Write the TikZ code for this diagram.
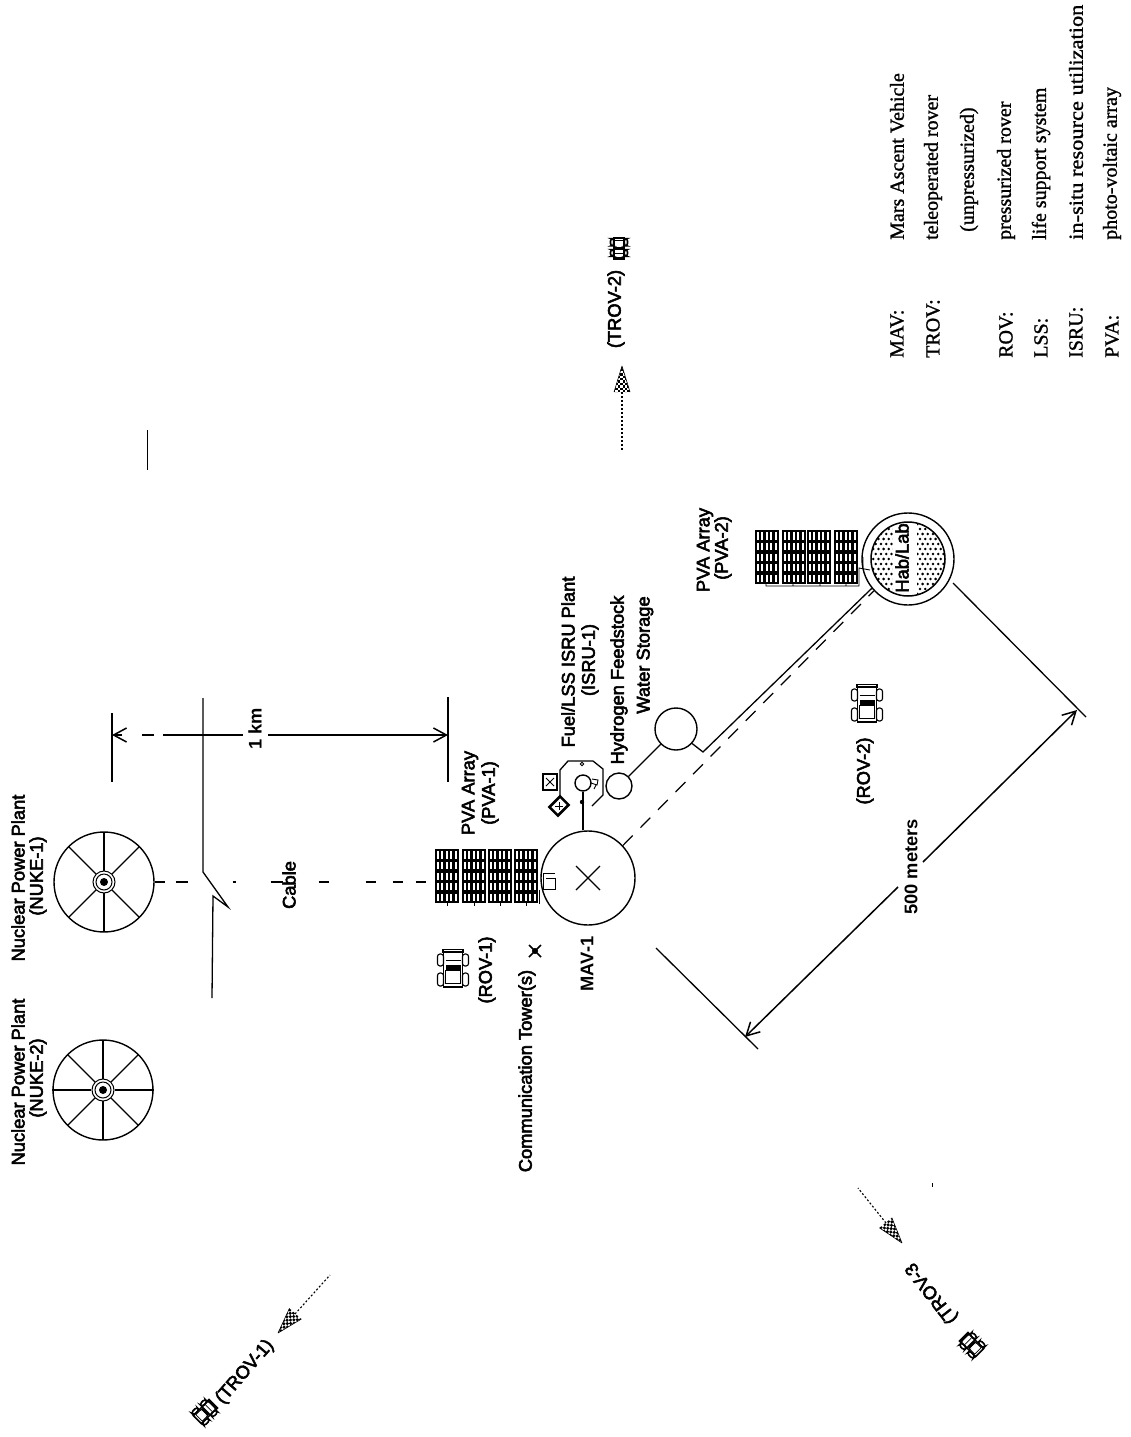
\documentclass[tikz,border=0pt]{standalone}
\usepackage{fontspec}
\setmainfont{Liberation Sans}
\newfontfamily\lbf[FakeBold=3]{Liberation Sans}
\newfontfamily\legf[FakeBold=1.2]{Liberation Serif}
\newfontfamily\legw[FakeBold=1.2,FakeStretch=1.12]{Liberation Serif}
\usetikzlibrary{arrows.meta,calc}
\tikzset{
  x=1pt,y=-1pt,
  ln/.style={line width=1.3pt,black},
  thin ln/.style={line width=.9pt,black},
  lab/.style={rotate=90,inner sep=0pt,font=\lbf\fontsize{18.3}{20}\selectfont},
  heavy/.style={rotate=90,inner sep=0pt,font=\bfseries\fontsize{18.3}{20}\selectfont},
  leg/.style={rotate=90,anchor=west,inner sep=0pt,font=\legf\fontsize{20}{22}\selectfont},
  disc/.style={circle,draw,line width=1.4pt,inner sep=0pt,minimum size=#1},
  barb/.style={-{Straight Barb[length=13pt,width=14pt,line width=1.5pt]}},
  dim/.style={line width=1.5pt},
  pics/rover/.style={code={
    \draw[line width=#1] (-10,-19.5) rectangle (10,-17);
    \draw[line width=#1] (-9.5,-17) rectangle (9.5,18);
    \draw[line width=#1,rounded corners=2.5pt] (-15.5,-15) rectangle (-9.5,-3);
    \draw[line width=#1,rounded corners=2.5pt] (9.5,-15) rectangle (15.5,-3);
    \draw[line width=#1,rounded corners=2.5pt] (-15.5,4) rectangle (-9.5,17);
    \draw[line width=#1,rounded corners=2.5pt] (9.5,4) rectangle (15.5,17);
    \draw[line width=.8pt] (-7.5,-9) -- (7.5,-9);
    \fill (-7.5,-4) rectangle (7.5,1);
    \draw[line width=.8pt] (-7.5,1) rectangle (7.5,14);
  }},
  pics/solar/.style={code={
    \fill (0,0) rectangle (24,54);
    \foreach \r in {0,...,4}{\foreach \c in {0,...,4}{
      \fill[white] ({1.7+\c*4.5},{2.4+\r*10.6}) rectangle ({3.5+\c*4.5},{9.6+\r*10.6});
    }}
  }},
  pics/spoked/.style={code={
    \foreach \a in {45,90,135,225,270,315}{\draw[ln] (\a:11) -- (\a:50);}
    \draw[line width=1pt] (0,0) circle (11) circle (8);
    \fill (0,0) circle (4);
  }},
  pics/checker/.style={code={
    \begin{scope}
      \clip (0,0) -- (-8,26) -- (8,26) -- cycle;
      \foreach \i in {0,...,7}{\foreach \j in {0,...,11}{
        \pgfmathparse{int(mod(\i+\j,2))}
        \ifnum\pgfmathresult=0
          \fill ({-9+\i*2.4},{\j*2.4}) rectangle ({-6.6+\i*2.4},{2.4+\j*2.4});
        \fi
      }}
    \end{scope}
    \draw[line width=.6pt] (0,0) -- (-8,26) (0,0) -- (8,26);
  }},
}
\begin{document}
\begin{tikzpicture}
\useasboundingbox[fill=white] (0,0) rectangle (1130,1437);

% nuclear plants
\node[disc=100pt] (nuke2) at (103,1090) {};
\pic at (nuke2.center) {spoked};
\draw[ln] (nuke2.west) -- ++(39,0) (nuke2.east) -- ++(-39,0);
\node[disc=100pt] (nuke1) at (104,882) {};
\pic at (nuke1.center) {spoked};
\node[lab] (tn2a) at (18,1082) {Nuclear Power Plant};
\node[lab] (tn2b) at (38,1078) {(NUKE-2)};
\node[lab] (tn1a) at (18,878) {Nuclear Power Plant};
\node[lab] (tn1b) at (38,876) {(NUKE-1)};

% solar arrays 1
\coordinate (pva1) at (435,849);
\pic at (435,849) {solar};
\pic at (462,849) {solar};
\pic at (488,849) {solar};
\pic at (514,849) {solar};
\draw[thin ln] (447,903) -- (447,906) (474,903) -- (474,906) (500,903) -- (500,906) (526,903) -- (526,906) (539,890) -- (539,904);
\node[lab] (tpa) at (470,793) {PVA Array};
\node[lab] (tpb) at (490,793) {(PVA-1)};

% MAV
\node[disc=94pt] (mav) at (588,878) {};
\draw[ln] (576,866) -- (600,890) (600,866) -- (576,890);
\draw[thin ln] (555,873) -- (543,873) -- (543,889) -- (555,889) -- (555,878) -- (546,878);
\node[heavy] (tmav) at (587,964) {MAV-1};

% cable
\draw[line width=1.2pt,dash pattern=on 10pt off 11pt on 12pt off 45pt on 3pt off 35pt on 12pt off 36pt on 10pt off 37pt on 10pt off 17pt on 10pt off 13pt on 10pt]
   (nuke1.east) -- (pva1 |- nuke1.east);
\node[lab] (tcable) at (289,885) {Cable};

% break line
\coordinate (b1) at (203,698);
\coordinate (b2) at (203,872);
\coordinate (b3) at (228,907);
\coordinate (b4) at (213,896);
\coordinate (b5) at (212,998);
\draw[ln,line join=miter] (b1) -- (b2) -- (b3) -- (b4) -- (b5);

% 1 km dimension
\coordinate (e1a) at (112,713);
\coordinate (e1b) at (112,782);
\coordinate (e2a) at (448,697);
\coordinate (e2b) at (448,782);
\draw[ln] (e1a) -- (e1b);
\draw[dim] (e2a) -- (e2b);
\coordinate (k1) at (122,735);
\coordinate (k2) at (142,735);
\coordinate (k3) at (154,735);
\coordinate (k4) at (163,735);
\coordinate (k5) at (243,735);
\coordinate (k6) at (268,735);
\draw[dim,barb] (k1) -- (e1a |- k1);
\draw[dim] (k2) -- (k3);
\draw[dim] (k4) -- (k5);
\draw[dim,barb] (k6) -- (e2a |- k6);
\node[heavy] (t1km) at (255,729) {1 km};

% ISRU
\draw[ln] (592,806) -- (603,795) -- (603,769) -- (593,761) -- (568,761) -- (560,770) -- (560,797);
\node[disc=16pt] (isru) at (583,783) {};
\draw[thin ln] (582,764) circle (1.8);
\fill (582,802) circle (2.2);
\draw[thin ln] (591,783) -- (597,785) -- (598,780) -- (592,779) (596,785) -- (594,789);
\draw[ln] (isru.south) -- (isru.south |- mav.north);
\node[draw,line width=2.4pt,minimum width=14pt,minimum height=16pt,inner sep=0pt] (box1) at (550,782) {};
\draw[thin ln] (546,778) -- (554,786) (554,778) -- (546,786);
\node[draw,line width=2.6pt,rotate=45,minimum width=15pt,minimum height=12pt,inner sep=0pt] (box2) at (559,806) {};
\draw[thin ln] (555,806) -- (563,806) (559,802) -- (559,810);
\node[lab] (tia) at (568,662) {Fuel/LSS ISRU Plant};
\node[lab] (tib) at (590,660) {(ISRU-1)};

% storage
\node[disc=26pt] (hyd) at (619,786) {};
\node[disc=42pt] (wat) at (676,729) {};
\draw[ln] (hyd.45) -- (wat.225);
\node[lab] (thy) at (619,680) {Hydrogen Feedstock};
\node[lab] (twa) at (645,655) {Water Storage};

% Hab
\node[disc=92pt] (hab) at (908,559) {};
\begin{scope}
  \clip (908,559) circle (37);
  \foreach \i in {0,...,16}{\foreach \j in {0,...,16}{
    \fill ({868+\i*5.2+mod(\j,2)*2.6},{519+\j*5}) circle (1.4);
  }}
  \fill[white] (893,510) rectangle (917,610);
\end{scope}
\draw[line width=1.5pt] (908,559) circle (37);
\node[lab] (thab) at (902,558) {Hab/Lab};

% connections MAV - water - Hab
\coordinate (kink) at (703,752);
\draw[ln] (wat.-42) -- (kink) -- (hab.219);
\draw[line width=1.2pt,dash pattern=on 14pt off 11pt] (mav.43) -- (hab.223);

% solar arrays 2
\coordinate (pva2) at (755,530);
\pic at (755,530) {solar};
\pic at (782,530) {solar};
\pic at (807,530) {solar};
\pic at (834,530) {solar};
\draw[thin ln] (766,583) -- (766,586) -- (859,586) -- (859,568) -- (870,570) (793,583) -- (793,586) (820,583) -- (820,586) (846,583) -- (846,586) (863,557) -- (863,567);
\node[lab] (tpc) at (705,550) {PVA Array};
\node[lab] (tpd) at (723,548) {(PVA-2)};

% 500 m dimension
\coordinate (d1) at (656,948);
\coordinate (d2) at (758,1049);
\coordinate (d3) at (953,583);
\coordinate (d4) at (1086,717);
\coordinate (t1) at (745,1037);
\coordinate (t2) at (1077,710);
\coordinate (g1) at (898,887);
\coordinate (g2) at (923,862);
\draw[ln] (d1) -- (d2);
\draw[ln] (d3) -- (d4);
\draw[dim,barb] (g1) -- (t1);
\draw[dim,barb] (g2) -- (t2);
\node[heavy] (t500) at (911,867) {500 meters};

% rovers
\pic at (453,969) {rover=1.1pt};
\node[lab] (tr1) at (487,970) {(ROV-1)};
\pic at (867,704) {rover=1.1pt};
\node[lab] (tr2) at (865,771) {(ROV-2)};

% comm tower
\node[lab] (tct) at (527,1071) {Communication Tower(s)};
\draw[line width=1.6pt] (529,945) -- (541,957) (541,945) -- (529,957);
\fill (535,951) circle (3);

% TROV-2
\pic[rotate=180,scale=.55] at (619,248) {rover=1.6pt};
\node[lab] (tt2) at (616,309) {(TROV-2)};
\pic at (622,366) {checker};
\coordinate (a2) at (622,392);
\coordinate (a2e) at (622,450);
\draw[line width=1.1pt,dash pattern=on 2pt off 2pt] (a2) -- (a2e);

% TROV-1
\coordinate (a1) at (295,1314);
\coordinate (a1e) at (330,1275);
\pic[rotate=138] at (278,1333) {checker};
\draw[line width=1.1pt,dash pattern=on 2pt off 2pt] (a1) -- (a1e);
\node[lab,rotate=-41] (tt1) at (245,1372) {(TROV-1)};
\pic[rotate=-45,scale=.6] at (205,1412) {rover=1.6pt};

% TROV-3
\coordinate (a3) at (886,1223);
\coordinate (a3e) at (858,1188);
\pic[rotate=219] at (902,1243) {checker};
\draw[line width=1.1pt,dash pattern=on 2pt off 2pt] (a3) -- (a3e);
\node[lab,rotate=38] (tt3) at (932,1293) {(TROV-3};
\pic[rotate=45,scale=.6] at (972,1345) {rover=1.6pt};

% stray marks
\coordinate (s1) at (147,430);
\coordinate (s2) at (147,470);
\draw[thin ln] (s1) -- (s2);
\coordinate (s3) at (932,1183);
\coordinate (s4) at (932,1187);
\draw[thin ln] (s3) -- (s4);

% legend
\node[leg] (l1a) at (897,358) {MAV:};
\node[leg] (l1b) at (897,240) {Mars Ascent Vehicle};
\node[leg] (l2a) at (933,358) {TROV:};
\node[leg] (l2b) at (933,240) {teleoperated rover};
\node[leg] (l3b) at (969,232) {(unpressurized)};
\node[leg] (l4a) at (1006,358) {ROV:};
\node[leg] (l4b) at (1006,240) {pressurized rover};
\node[leg] (l5a) at (1041,358) {LSS:};
\node[leg] (l5b) at (1041,240) {life support system};
\node[leg] (l6a) at (1076,358) {ISRU:};
\node[leg] (l6b) at (1076,240) {\legw in-situ resource utilization};
\node[leg] (l7a) at (1112,358) {PVA:};
\node[leg] (l7b) at (1112,240) {photo-voltaic array};
\end{tikzpicture}
\end{document}
